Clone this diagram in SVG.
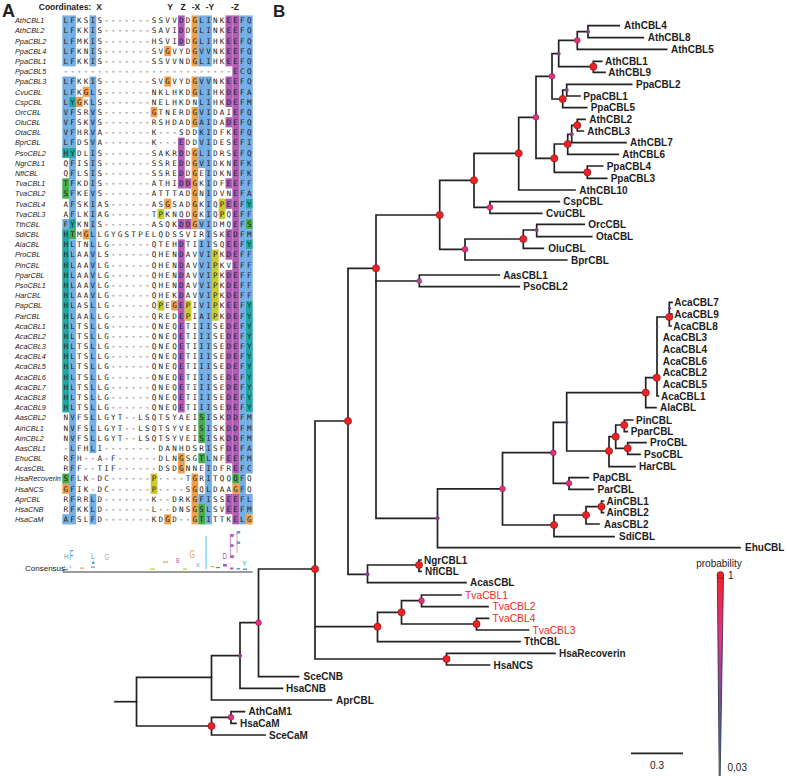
<svg xmlns="http://www.w3.org/2000/svg" width="787" height="776" viewBox="0 0 787 776">
<defs>
<style>
.pl{font-family:"Liberation Sans",Arial,sans-serif;font-weight:bold;fill:#222}
.hd{font-family:"Liberation Sans",Arial,sans-serif;font-weight:bold;font-size:8.5px;fill:#222;text-anchor:middle}
.nm{font-family:"Liberation Sans",Arial,sans-serif;font-style:italic;font-size:7.3px;fill:#222}
.sq{font-family:"DejaVu Sans Mono",monospace;font-size:7.6px;letter-spacing:2.225px;fill:#222}
.b{fill:#74aee4}.p{fill:#b25cb2}.o{fill:#eea04c}.g{fill:#45ad4b}.c{fill:#23a5a5}.y{fill:#c9c932}
.lbl{font-family:"Liberation Sans",Arial,sans-serif;font-size:10px;font-weight:bold;fill:#1e1e1e}
.tv{font-family:"Liberation Sans",Arial,sans-serif;font-size:10.3px;fill:#ee2a24}
.br{fill:none;stroke:#222;stroke-width:1.7;stroke-linecap:square;stroke-linejoin:miter}
.nr{fill:#ee2224;stroke:#7a1010;stroke-width:0.6}
.np{fill:#e2307c;stroke:#7a1840;stroke-width:0.5}
.nm2{fill:#b04898;stroke:#5a2050;stroke-width:0.4}
.nv{fill:#8a3c8c}
.nb{fill:#3c4a9c}
.sm{font-family:"Liberation Sans",Arial,sans-serif;font-size:10px;fill:#222}
.lg{font-family:"Liberation Sans",Arial,sans-serif;font-size:7px}
</style>
<linearGradient id="pg" x1="0" y1="0" x2="0" y2="1">
<stop offset="0" stop-color="#f2222a"/>
<stop offset="0.3" stop-color="#e8308a"/>
<stop offset="0.6" stop-color="#7a4aa8"/>
<stop offset="0.85" stop-color="#4a70c8"/>
<stop offset="1" stop-color="#40e0f0"/>
</linearGradient>
</defs>
<rect width="787" height="776" fill="#fff"/>

<!-- Panel A -->
<g id="panelA">
<text class="pl" x="2" y="16.5" font-size="18">A</text>
<text class="hd" x="65" y="9.5">Coordinates:</text>
<text class="hd" x="99" y="9.5">X</text>
<text class="hd" x="170" y="9.5">Y</text>
<text class="hd" x="183" y="9.5">Z</text>
<text class="hd" x="196" y="9.5">-X</text>
<text class="hd" x="210" y="9.5">-Y</text>
<text class="hd" x="235" y="9.5">-Z</text>

<g id="cells">
<rect class="b" x="62.3" y="15.41" width="6.8" height="50.9"/>
<rect class="b" x="62.3" y="76.49" width="6.8" height="71.26"/>
<rect class="c" x="62.3" y="147.75" width="6.8" height="10.18"/>
<rect class="g" x="62.3" y="178.29" width="6.8" height="20.36"/>
<rect class="b" x="62.3" y="219.01" width="6.8" height="10.18"/>
<rect class="c" x="62.3" y="229.19" width="6.8" height="183.24"/>
<rect class="g" x="62.3" y="473.51" width="6.8" height="10.18"/>
<rect class="o" x="62.3" y="483.69" width="6.8" height="10.18"/>
<rect class="b" x="62.3" y="514.23" width="6.8" height="10.18"/>

<rect class="b" x="69.1" y="15.41" width="6.8" height="50.9"/>
<rect class="b" x="69.1" y="76.49" width="6.8" height="20.36"/>
<rect class="c" x="69.1" y="96.85" width="6.8" height="10.18"/>
<rect class="b" x="69.1" y="107.03" width="6.8" height="40.72"/>
<rect class="c" x="69.1" y="147.75" width="6.8" height="10.18"/>
<rect class="b" x="69.1" y="157.93" width="6.8" height="61.08"/>
<rect class="c" x="69.1" y="219.01" width="6.8" height="10.18"/>
<rect class="g" x="69.1" y="229.19" width="6.8" height="10.18"/>
<rect class="b" x="69.1" y="239.37" width="6.8" height="285.04"/>

<rect class="o" x="75.9" y="96.85" width="6.8" height="10.18"/>
<rect class="o" x="82.7" y="86.67" width="6.8" height="10.18"/>
<rect class="o" x="82.7" y="229.19" width="6.8" height="10.18"/>

<rect class="b" x="89.5" y="15.41" width="6.8" height="50.9"/>
<rect class="b" x="89.5" y="76.49" width="6.8" height="376.66"/>
<rect class="b" x="89.5" y="493.87" width="6.8" height="30.54"/>

<rect class="o" x="150.7" y="107.03" width="6.8" height="10.18"/>
<rect class="y" x="150.7" y="473.51" width="6.8" height="20.36"/>
<rect class="y" x="157.5" y="208.83" width="6.8" height="10.18"/>
<rect class="y" x="157.5" y="300.45" width="6.8" height="10.18"/>
<rect class="o" x="164.3" y="45.95" width="6.8" height="10.18"/>
<rect class="o" x="164.3" y="76.49" width="6.8" height="10.18"/>
<rect class="o" x="164.3" y="198.65" width="6.8" height="10.18"/>
<rect class="o" x="164.3" y="514.23" width="6.8" height="10.18"/>
<rect class="o" x="171.1" y="300.45" width="6.8" height="10.18"/>

<rect class="p" x="177.9" y="15.41" width="6.8" height="30.54"/>
<rect class="p" x="177.9" y="137.57" width="6.8" height="50.9"/>
<rect class="p" x="177.9" y="219.01" width="6.8" height="10.18"/>
<rect class="p" x="177.9" y="239.37" width="6.8" height="173.06"/>
<rect class="o" x="177.9" y="453.15" width="6.8" height="20.36"/>

<rect class="p" x="184.7" y="178.29" width="6.8" height="10.18"/>
<rect class="p" x="184.7" y="219.01" width="6.8" height="10.18"/>
<rect class="y" x="184.7" y="300.45" width="6.8" height="20.36"/>

<rect class="o" x="191.5" y="15.41" width="6.8" height="50.9"/>
<rect class="o" x="191.5" y="76.49" width="6.8" height="20.36"/>
<rect class="o" x="191.5" y="107.03" width="6.8" height="20.36"/>
<rect class="o" x="191.5" y="147.75" width="6.8" height="81.44"/>
<rect class="o" x="191.5" y="473.51" width="6.8" height="50.9"/>

<rect class="b" x="198.3" y="15.41" width="6.8" height="50.9"/>
<rect class="b" x="198.3" y="76.49" width="6.8" height="91.62"/>
<rect class="b" x="198.3" y="219.01" width="6.8" height="10.18"/>
<rect class="b" x="198.3" y="239.37" width="6.8" height="173.06"/>
<rect class="g" x="198.3" y="412.43" width="6.8" height="30.54"/>
<rect class="g" x="198.3" y="453.15" width="6.8" height="10.18"/>
<rect class="b" x="198.3" y="493.87" width="6.8" height="10.18"/>
<rect class="g" x="198.3" y="504.05" width="6.8" height="20.36"/>

<rect class="b" x="205.1" y="15.41" width="6.8" height="50.9"/>
<rect class="b" x="205.1" y="76.49" width="6.8" height="447.92"/>

<rect class="y" x="211.9" y="249.55" width="6.8" height="71.26"/>
<rect class="y" x="218.7" y="198.65" width="6.8" height="20.36"/>

<rect class="p" x="225.5" y="15.41" width="6.8" height="50.9"/>
<rect class="p" x="225.5" y="76.49" width="6.8" height="30.54"/>
<rect class="p" x="225.5" y="117.21" width="6.8" height="10.18"/>
<rect class="p" x="225.5" y="178.29" width="6.8" height="10.18"/>
<rect class="p" x="225.5" y="198.65" width="6.8" height="10.18"/>
<rect class="p" x="225.5" y="229.19" width="6.8" height="30.54"/>
<rect class="p" x="225.5" y="269.91" width="6.8" height="193.42"/>
<rect class="p" x="225.5" y="493.87" width="6.8" height="20.36"/>

<rect class="p" x="232.3" y="15.41" width="6.8" height="458.1"/>
<rect class="g" x="232.3" y="473.51" width="6.8" height="10.18"/>
<rect class="o" x="232.3" y="483.69" width="6.8" height="10.18"/>
<rect class="p" x="232.3" y="493.87" width="6.8" height="30.54"/>

<rect class="b" x="239.1" y="15.41" width="6.8" height="509"/>

<rect class="b" x="245.9" y="15.41" width="6.8" height="183.24"/>
<rect class="c" x="245.9" y="198.65" width="6.8" height="10.18"/>
<rect class="b" x="245.9" y="208.83" width="6.8" height="10.18"/>
<rect class="g" x="245.9" y="219.01" width="6.8" height="10.18"/>
<rect class="b" x="245.9" y="229.19" width="6.8" height="10.18"/>
<rect class="c" x="245.9" y="239.37" width="6.8" height="10.18"/>
<rect class="b" x="245.9" y="249.55" width="6.8" height="50.9"/>
<rect class="c" x="245.9" y="300.45" width="6.8" height="111.98"/>
<rect class="b" x="245.9" y="412.43" width="6.8" height="61.08"/>
<rect class="b" x="245.9" y="493.87" width="6.8" height="20.36"/>
<rect class="o" x="245.9" y="514.23" width="6.8" height="10.18"/>
</g>

<g id="names">
<text class="nm" x="15" y="23.30">AthCBL1</text>
<text class="nm" x="15" y="33.48">AthCBL2</text>
<text class="nm" x="15" y="43.66">PpaCBL2</text>
<text class="nm" x="15" y="53.84">PpaCBL4</text>
<text class="nm" x="15" y="64.02">PpaCBL1</text>
<text class="nm" x="15" y="74.20">PpaCBL5</text>
<text class="nm" x="15" y="84.38">PpaCBL3</text>
<text class="nm" x="15" y="94.56">CvuCBL</text>
<text class="nm" x="15" y="104.74">CspCBL</text>
<text class="nm" x="15" y="114.92">OrcCBL</text>
<text class="nm" x="15" y="125.10">OluCBL</text>
<text class="nm" x="15" y="135.28">OtaCBL</text>
<text class="nm" x="15" y="145.46">BprCBL</text>
<text class="nm" x="15" y="155.64">PsoCBL2</text>
<text class="nm" x="15" y="165.82">NgrCBL1</text>
<text class="nm" x="15" y="176.00">NflCBL</text>
<text class="nm" x="15" y="186.18">TvaCBL1</text>
<text class="nm" x="15" y="196.36">TvaCBL2</text>
<text class="nm" x="15" y="206.54">TvaCBL4</text>
<text class="nm" x="15" y="216.72">TvaCBL3</text>
<text class="nm" x="15" y="226.90">TthCBL</text>
<text class="nm" x="15" y="237.08">SdiCBL</text>
<text class="nm" x="15" y="247.26">AlaCBL</text>
<text class="nm" x="15" y="257.44">ProCBL</text>
<text class="nm" x="15" y="267.62">PinCBL</text>
<text class="nm" x="15" y="277.80">PparCBL</text>
<text class="nm" x="15" y="287.98">PsoCBL1</text>
<text class="nm" x="15" y="298.16">HarCBL</text>
<text class="nm" x="15" y="308.34">PapCBL</text>
<text class="nm" x="15" y="318.52">ParCBL</text>
<text class="nm" x="15" y="328.70">AcaCBL1</text>
<text class="nm" x="15" y="338.88">AcaCBL2</text>
<text class="nm" x="15" y="349.06">AcaCBL3</text>
<text class="nm" x="15" y="359.24">AcaCBL4</text>
<text class="nm" x="15" y="369.42">AcaCBL5</text>
<text class="nm" x="15" y="379.60">AcaCBL6</text>
<text class="nm" x="15" y="389.78">AcaCBL7</text>
<text class="nm" x="15" y="399.96">AcaCBL8</text>
<text class="nm" x="15" y="410.14">AcaCBL9</text>
<text class="nm" x="15" y="420.32">AasCBL2</text>
<text class="nm" x="15" y="430.50">AinCBL1</text>
<text class="nm" x="15" y="440.68">AinCBL2</text>
<text class="nm" x="15" y="450.86">AasCBL1</text>
<text class="nm" x="15" y="461.04">EhuCBL</text>
<text class="nm" x="15" y="471.22">AcasCBL</text>
<text class="nm" x="15" y="481.40">HsaRecoverin</text>
<text class="nm" x="15" y="491.58">HsaNCS</text>
<text class="nm" x="15" y="501.76">AprCBL</text>
<text class="nm" x="15" y="511.94">HsaCNB</text>
<text class="nm" x="15" y="522.12">HsaCaM</text>
</g>

<g id="seqs">
<text class="sq" x="63.41" y="23.30">LFKSIS-------SSVVDDGLINKEEFQ</text>
<text class="sq" x="63.41" y="33.48">LFKKIS-------SAVIDDGLINKEEFQ</text>
<text class="sq" x="63.41" y="43.66">LFMKIS-------HSVIDDGLIHKEEFQ</text>
<text class="sq" x="63.41" y="53.84">LFKNIS-------SVGVYDGVVNKEEFQ</text>
<text class="sq" x="63.41" y="64.02">LFKKIS-------SSVVNDGLIHKEEFQ</text>
<text class="sq" x="63.41" y="74.20">-------------------------ECQ</text>
<text class="sq" x="63.41" y="84.38">LFKKIS-------SVGVYDGVVNKEEFQ</text>
<text class="sq" x="63.41" y="94.56">LFKGLS-------NKLHKDGLIHKDEFA</text>
<text class="sq" x="63.41" y="104.74">LYGKLS-------NELHKDNLIHKDEFM</text>
<text class="sq" x="63.41" y="114.92">VFSRVS-------GTNERDGVIDAIEFQ</text>
<text class="sq" x="63.41" y="125.10">VFSKVS-------RSHDADGAIDADEFQ</text>
<text class="sq" x="63.41" y="135.28">VFHRVA-------K---SDDKIDFKEFQ</text>
<text class="sq" x="63.41" y="145.46">LFDSVA-------K---EDDVIDESEFI</text>
<text class="sq" x="63.41" y="155.64">HYDLIS-------SAKRDDGLIDRSEFQ</text>
<text class="sq" x="63.41" y="165.82">QFISIS-------SSREDDGVIDKNEFK</text>
<text class="sq" x="63.41" y="176.00">QFLSIS-------SSREDDGEIDKNEFK</text>
<text class="sq" x="63.41" y="186.18">TFKDIS-------ATHIDDGKIDFEEFF</text>
<text class="sq" x="63.41" y="196.36">SFKEVS-------ATTTADGNIDVNEFA</text>
<text class="sq" x="63.41" y="206.54">AFSKIAS------ASGSADGKIQPEEFY</text>
<text class="sq" x="63.41" y="216.72">AFLKIAG------TPKNQDGKIQPQEFF</text>
<text class="sq" x="63.41" y="226.90">FYKNIS-------ASQKDDGVIDMQEFS</text>
<text class="sq" x="63.41" y="237.08">HTMGLLGYGSTPELQDSSVIRISKEDFM</text>
<text class="sq" x="63.41" y="247.26">HLTNLLG------QTEHDTIIISQEEFY</text>
<text class="sq" x="63.41" y="257.44">HLAAVLS------QHENDAVVIPKDEFF</text>
<text class="sq" x="63.41" y="267.62">HLAAVLG------QHENDAVVIPKVEFF</text>
<text class="sq" x="63.41" y="277.80">HLAAVLG------QHENDAVVIPKDEFF</text>
<text class="sq" x="63.41" y="287.98">HLAAVLG------QHENDAVVIPKDEFF</text>
<text class="sq" x="63.41" y="298.16">HLAAVLG------QHEKDAVVIPKDEFF</text>
<text class="sq" x="63.41" y="308.34">HLASLLG------QPEGEPIVIPKEEFY</text>
<text class="sq" x="63.41" y="318.52">HLAALLG------QREDEPIAIPKDEFY</text>
<text class="sq" x="63.41" y="328.70">HLTSLLG------QNEQETIIISEDEFY</text>
<text class="sq" x="63.41" y="338.88">HLTSLLG------QNEQETIIISEDEFY</text>
<text class="sq" x="63.41" y="349.06">HLTSLLG------QNEQETIIISEDEFY</text>
<text class="sq" x="63.41" y="359.24">HLTSLLG------QNEQETIIISEDEFY</text>
<text class="sq" x="63.41" y="369.42">HLTSLLG------QNEQETIIISEDEFY</text>
<text class="sq" x="63.41" y="379.60">HLTSLLG------QNEQETIIISEDEFY</text>
<text class="sq" x="63.41" y="389.78">HLTSLLG------QNEQETIIISEDEFY</text>
<text class="sq" x="63.41" y="399.96">HLTSLLG------QNEQETIIISEDEFY</text>
<text class="sq" x="63.41" y="410.14">HLTSLLG------QNEQETIIISEDEFY</text>
<text class="sq" x="63.41" y="420.32">NVFSLLGYT--LSQTSYAEISISKDDFM</text>
<text class="sq" x="63.41" y="430.50">NVFSLLGYT--LSQTSYVEISISKDDFM</text>
<text class="sq" x="63.41" y="440.68">NVFSLLGYT--LSQTSYVEISISKDDFM</text>
<text class="sq" x="63.41" y="450.86">-LFHLI--------DANHDSRISFDEFA</text>
<text class="sq" x="63.41" y="461.04">RFH--A-F------DLNGSGTLNFEEFM</text>
<text class="sq" x="63.41" y="471.22">RFF--TIF------DSDGNNEIDFREFC</text>
<text class="sq" x="63.41" y="481.40">SFLK-DC------P----TGRITQQQFQ</text>
<text class="sq" x="63.41" y="491.58">GFIK-DC------P----SGQLDAAGFQ</text>
<text class="sq" x="63.41" y="501.76">RFRRLD-------K--DRKGFISSEEFL</text>
<text class="sq" x="63.41" y="511.94">RFKKLD-------L--DNSGSLSVEEFM</text>
<text class="sq" x="63.41" y="522.12">AFSLFD-------KDGD--GTITTKELG</text>
</g>

<g id="logo">
<text class="lg" transform="translate(64,559) scale(0.9,1)" fill="#23a5a5">H</text>
<text class="lg" transform="translate(69.5,559.5) scale(0.9,2)" fill="#5c9ad8">F</text>
<text class="lg" transform="translate(64,568) scale(0.7,0.6)" fill="#23a5a5">L</text>
<text class="lg" transform="translate(69.5,568) scale(0.8,0.6)" fill="#5c9ad8">L</text>
<rect x="63" y="569" width="5" height="1.2" fill="#45ad4b"/>
<rect x="80" y="567.5" width="4" height="1.2" fill="#eea04c"/>
<text class="lg" transform="translate(91,559) scale(0.9,1.2)" fill="#5c9ad8">L</text>
<rect x="92" y="561.5" width="2.5" height="2.5" fill="#5c9ad8"/>
<rect x="91" y="566.5" width="4" height="1.2" fill="#5c9ad8"/>
<text class="lg" transform="translate(104.5,560) scale(0.9,1.2)" fill="#b0b0b0">G</text>
<rect x="150" y="568.5" width="5" height="1.2" fill="#c9c932"/>
<rect x="163" y="561.5" width="5" height="1.2" fill="#eea04c"/>
<text class="lg" transform="translate(176,563) scale(0.8,0.9)" fill="#b25cb2">B</text>
<rect x="183" y="568.5" width="4" height="1.2" fill="#c9c932"/>
<text class="lg" transform="translate(189.5,557.5) scale(1,1.6)" fill="#eea04c">G</text>
<text class="lg" transform="translate(196,567) scale(0.8,0.8)" fill="#5c9ad8">X</text>
<text class="lg" transform="translate(204.8,569) scale(1.2,7)" fill="#5c9ad8">I</text>
<rect x="210.5" y="566" width="4" height="1.2" fill="#c9c932"/>
<rect x="216" y="567" width="4" height="1.2" fill="#45ad4b"/>
<text class="lg" transform="translate(222.5,559) scale(0.9,1.2)" fill="#b25cb2">D</text>
<rect x="223" y="564" width="4" height="2.5" fill="#b25cb2"/>
<text class="lg" transform="translate(229.5,558) scale(1,5)" fill="#b25cb2">E</text>
<rect x="230" y="567.5" width="3.5" height="2" fill="#b25cb2"/>
<text class="lg" transform="translate(236,553) scale(1,4.4)" fill="#5c9ad8">F</text>
<rect x="236.5" y="568" width="3.5" height="1.5" fill="#5c9ad8"/>
<text class="lg" transform="translate(242.5,566) scale(0.9,0.9)" fill="#23a5a5">Y</text>
<rect x="243" y="568.5" width="4" height="1.5" fill="#5c9ad8"/>
<rect x="62.5" y="571" width="190" height="2" fill="#9a9a9a"/>
<text x="25" y="571" font-family="Liberation Sans, Arial, sans-serif" font-size="8" fill="#222">Consensus</text>
</g>
</g>

<!-- Panel B -->
<text class="pl" x="273" y="17" font-size="17">B</text>

<g id="connectors">
<path class="br" d="M619.3,25.7 H588 V37.7 H643.3"/>
<path class="br" d="M588,31.7 H577.3 V49.3 H666.7"/>
<path class="br" d="M577.3,40.3 H558.7 V66.7 H593.3"/>
<path class="br" d="M601.7,61.3 H593.3 V72.3 H605"/>
<path class="br" d="M558.7,53.7 H552 V99 H562.7"/>
<path class="br" d="M631.7,84.3 H566.7 V96 H580"/>
<path class="br" d="M566.7,90 H562.7 V107.7 H586.7"/>
<path class="br" d="M552,76.3 H536 V158.3 H554.3"/>
<path class="br" d="M585,119.3 H577.3 V131 H583.3"/>
<path class="br" d="M577.3,125.3 H571.7 V142.7 H626"/>
<path class="br" d="M571.7,134.3 H567.7 V154.3 H618.3"/>
<path class="br" d="M567.7,144 H554.3 V172.3 H587.3"/>
<path class="br" d="M602.7,166 H587.3 V178.3 H606.7"/>
<path class="br" d="M536,117.3 H518.7 V190 H575"/>
<path class="br" d="M518.7,153.3 H474 V207.3 H490"/>
<path class="br" d="M559.3,201.7 H490 V213.3 H541.7"/>
<path class="br" d="M474,180.3 H439.7 V249.3 H465"/>
<path class="br" d="M584.3,224.3 H536.7 V236.7 H591.7"/>
<path class="br" d="M536.7,230 H523.3 V248.3 H543.3"/>
<path class="br" d="M523.3,239 H465 V260 H566.7"/>
<path class="br" d="M439.7,215 H376 V518.3 H437.5"/>
<path class="br" d="M499.3,275 H419.3 V286.7 H519.3 M376,281 H419.3"/>
<path class="br" d="M376,268.3 H348 V574.3 H367.5"/>
<path class="br" d="M502.5,488.8 H437.5 V547.7 H740"/>
<path class="br" d="M553.3,452.7 H502.5 V525 H554"/>
<path class="br" d="M566.7,422.3 H553.3 V483.3 H569"/>
<path class="br" d="M588.3,477.7 H569 V489.3 H593"/>
<path class="br" d="M645.7,392.7 H566.7 V451 H609"/>
<path class="br" d="M656.7,377.7 H645.7 V407.7 H656"/>
<path class="br" d="M669.3,317 H657 V396 H658.5"/>
<path class="br" d="M672,302.3 H669.3 V326 H671 M669.3,314 H672"/>
<path class="br" d="M615.7,436.7 H609 V466.7 H635"/>
<path class="br" d="M624.3,425 H615.7 V448.3 H627.7"/>
<path class="br" d="M632.7,420 H624.3 V431.7 H627.3"/>
<path class="br" d="M646,442.7 H627.7 V454.3 H640"/>
<path class="br" d="M586,515 H554 V536.7 H614"/>
<path class="br" d="M601.5,506.7 H586 V524 H599"/>
<path class="br" d="M603.5,501 H601.5 V512.7 H603.5"/>
<path class="br" d="M348,421 H315 V659 H446.5 M315,626.7 H377.5"/>
<path class="br" d="M421,560 H419 V571.3 H421"/>
<path class="br" d="M419,565 H367.5 V582.7 H466"/>
<path class="br" d="M401.5,612.3 H377.5 V641.7 H520"/>
<path class="br" d="M421.5,600.7 H401.5 V624 H476.5"/>
<path class="br" d="M461,595 H421.5 V606.7 H488"/>
<path class="br" d="M488.5,618.3 H476.5 V630 H528.5"/>
<path class="br" d="M555,653.3 H446.5 V665 H489.5"/>
<path class="br" d="M315,569 H258.5 V676.7 H298.5"/>
<path class="br" d="M258.5,622.7 H240 V688.3 H282.5"/>
<path class="br" d="M240,655.7 H211.5 V700 H331.5"/>
<path class="br" d="M211.5,677.3 H136.5 V726 H211.5"/>
<path class="br" d="M115,701.7 H136.5"/>
<path class="br" d="M231,717.3 H211.5 V735 H265"/>
<path class="br" d="M244.5,711.7 H231 V723.3 H236"/>
</g>

<g id="inner-nodes">
<g id="n1"><circle class="nv" cx="588" cy="31.7" r="2"/></g>
<g id="n2"><circle class="np" cx="577.3" cy="40.3" r="2.9"/></g>
<g id="n3"><circle class="nv" cx="558.7" cy="53.7" r="2"/></g>
<g id="n4"><circle class="nr" cx="593.3" cy="66.7" r="3.6"/></g>
<g id="n5"><circle class="np" cx="552" cy="76.3" r="2.9"/></g>
<g id="n6"><circle class="nv" cx="566.7" cy="90" r="2"/></g>
<g id="n7"><circle class="nr" cx="562.7" cy="99" r="3.6"/></g>
<g id="n8"><circle class="np" cx="536" cy="117.3" r="2.9"/></g>
<g id="n9"><circle class="nr" cx="577.3" cy="125.3" r="3.6"/></g>
<g id="n10"><circle class="nv" cx="571.7" cy="134.3" r="2"/></g>
<g id="n11"><circle class="nr" cx="567.7" cy="144" r="3.6"/></g>
<g id="n12"><circle class="nr" cx="554.3" cy="158.3" r="3.6"/></g>
<g id="n13"><circle class="nr" cx="587.3" cy="172.3" r="3.6"/></g>
<g id="n14"><circle class="nr" cx="518.7" cy="153.3" r="3.6"/></g>
<g id="n15"><circle class="nr" cx="474" cy="180.3" r="3.6"/></g>
<g id="n16"><circle class="np" cx="490" cy="207.3" r="2.9"/></g>
<g id="n17"><circle class="nr" cx="439.7" cy="215" r="3.6"/></g>
<g id="n18"><circle class="nv" cx="536.7" cy="230" r="2"/></g>
<g id="n19"><circle class="nr" cx="523.3" cy="239" r="3.6"/></g>
<g id="n20"><circle class="np" cx="465" cy="249.3" r="2.9"/></g>
<g id="n21"><circle class="nr" cx="376" cy="268.3" r="3.6"/></g>
<g id="n22"><circle class="nm2" cx="419.3" cy="281" r="2.5"/></g>
<g id="n23"><circle class="nb" cx="669.7" cy="308.3" r="1.4"/></g>
<g id="n24"><circle class="nr" cx="669.3" cy="317" r="3.6"/></g>
<g id="n24b"><circle class="nb" cx="657.3" cy="327.3" r="1.1"/><circle class="nb" cx="657.3" cy="355" r="1.1"/></g>
<g id="n25"><circle class="nr" cx="656.7" cy="377.7" r="3.6"/></g>
<g id="n26"><circle class="nr" cx="645.7" cy="392.7" r="3.6"/></g>
<g id="n27"><circle class="nb" cx="566.7" cy="422.3" r="1.5"/></g>
<g id="n28"><circle class="nr" cx="624.3" cy="425" r="3.6"/></g>
<g id="n29"><circle class="nr" cx="615.7" cy="436.7" r="3.6"/></g>
<g id="n30"><circle class="nr" cx="627.7" cy="448.3" r="3.6"/></g>
<g id="n31"><circle class="nr" cx="609" cy="451" r="3.6"/></g>
<g id="n32"><circle class="np" cx="553.3" cy="452.7" r="2.9"/></g>
<g id="n33"><circle class="np" cx="569" cy="483.3" r="2.9"/></g>
<g id="n34"><circle class="np" cx="502.5" cy="488.8" r="2.9"/></g>
<g id="n35"><circle class="nr" cx="601.5" cy="506.7" r="3.6"/></g>
<g id="n36"><circle class="nr" cx="586" cy="515" r="3.6"/></g>
<g id="n37"><circle class="nr" cx="554" cy="525" r="3.6"/></g>
<g id="n38"><circle class="nv" cx="437.5" cy="518.3" r="2"/></g>
<g id="n39"><circle class="nr" cx="348" cy="421" r="3.6"/></g>
<g id="n40"><circle class="nr" cx="419" cy="565" r="3.6"/></g>
<g id="n41"><circle class="nv" cx="367.5" cy="574.3" r="2"/></g>
<g id="n42"><circle class="nr" cx="315" cy="569" r="3.6"/></g>
<g id="n43"><circle class="np" cx="421.5" cy="600.7" r="2.9"/></g>
<g id="n44"><circle class="nr" cx="401.5" cy="612.3" r="3.6"/></g>
<g id="n45"><circle class="nr" cx="476.5" cy="624" r="3.6"/></g>
<g id="n46"><circle class="nr" cx="377.5" cy="626.7" r="3.6"/></g>
<g id="n47"><circle class="nr" cx="446.5" cy="659" r="3.6"/></g>
<g id="n48"><circle class="np" cx="258.5" cy="622.7" r="2.9"/></g>
<g id="n49"><circle class="nv" cx="240" cy="655.7" r="2"/></g>
<g id="n50"><circle class="np" cx="231" cy="717.3" r="2.9"/></g>
<g id="n51"><circle class="nr" cx="211.5" cy="726" r="3.6"/></g>
</g>

<g id="leaves">
<g id="AthCBL4"><text class="lbl" x="624" y="29.3">AthCBL4</text></g>
<g id="AthCBL8"><text class="lbl" x="647.7" y="41.3">AthCBL8</text></g>
<g id="AthCBL5"><text class="lbl" x="671" y="52.9">AthCBL5</text></g>
<g id="AthCBL1"><text class="lbl" x="605" y="64.9">AthCBL1</text></g>
<g id="AthCBL9"><text class="lbl" x="608.3" y="75.9">AthCBL9</text></g>
<g id="PpaCBL2"><text class="lbl" x="636" y="87.9">PpaCBL2</text></g>
<g id="PpaCBL1"><text class="lbl" x="583.3" y="99.6">PpaCBL1</text></g>
<g id="PpaCBL5"><text class="lbl" x="590.7" y="111.3">PpaCBL5</text></g>
<g id="AthCBL2"><text class="lbl" x="589.3" y="122.9">AthCBL2</text></g>
<g id="AthCBL3"><text class="lbl" x="587.3" y="134.6">AthCBL3</text></g>
<g id="AthCBL7"><text class="lbl" x="630" y="146.3">AthCBL7</text></g>
<g id="AthCBL6"><text class="lbl" x="622.3" y="157.9">AthCBL6</text></g>
<g id="PpaCBL4"><text class="lbl" x="606.7" y="169.6">PpaCBL4</text></g>
<g id="PpaCBL3"><text class="lbl" x="610.7" y="181.9">PpaCBL3</text></g>
<g id="AthCBL10"><text class="lbl" x="579.3" y="193.6">AthCBL10</text></g>
<g id="CspCBL"><text class="lbl" x="563.3" y="205.3">CspCBL</text></g>
<g id="CvuCBL"><text class="lbl" x="546" y="216.9">CvuCBL</text></g>
<g id="OrcCBL"><text class="lbl" x="588.3" y="227.9">OrcCBL</text></g>
<g id="OtaCBL"><text class="lbl" x="596" y="240.3">OtaCBL</text></g>
<g id="OluCBL"><text class="lbl" x="548.3" y="251.9">OluCBL</text></g>
<g id="BprCBL"><text class="lbl" x="571" y="263.6">BprCBL</text></g>
<g id="AasCBL1"><text class="lbl" x="503.3" y="278.6">AasCBL1</text></g>
<g id="PsoCBL2"><text class="lbl" x="523.3" y="290.3">PsoCBL2</text></g>
<g id="AcaCBL7"><text class="lbl" x="674.3" y="305.9">AcaCBL7</text></g>
<g id="AcaCBL9"><text class="lbl" x="674.3" y="317.6">AcaCBL9</text></g>
<g id="AcaCBL8"><text class="lbl" x="673.3" y="329.6">AcaCBL8</text></g>
<g id="AcaCBL3"><text class="lbl" x="662.7" y="341.3">AcaCBL3</text></g>
<g id="AcaCBL4"><text class="lbl" x="662.7" y="352.9">AcaCBL4</text></g>
<g id="AcaCBL6"><text class="lbl" x="662.7" y="364.6">AcaCBL6</text></g>
<g id="AcaCBL2"><text class="lbl" x="662.7" y="376.3">AcaCBL2</text></g>
<g id="AcaCBL5"><text class="lbl" x="662.7" y="387.9">AcaCBL5</text></g>
<g id="AcaCBL1"><text class="lbl" x="661" y="399.6">AcaCBL1</text></g>
<g id="AlaCBL"><text class="lbl" x="660" y="411.3">AlaCBL</text></g>
<g id="PinCBL"><text class="lbl" x="636" y="423.6">PinCBL</text></g>
<g id="PparCBL"><text class="lbl" x="630.7" y="435.3">PparCBL</text></g>
<g id="ProCBL"><text class="lbl" x="650" y="446.3">ProCBL</text></g>
<g id="PsoCBL"><text class="lbl" x="644" y="457.9">PsoCBL</text></g>
<g id="HarCBL"><text class="lbl" x="639" y="470.3">HarCBL</text></g>
<g id="PapCBL"><text class="lbl" x="592.7" y="481.3">PapCBL</text></g>
<g id="ParCBL"><text class="lbl" x="597.5" y="492.9">ParCBL</text></g>
<g id="AinCBL1"><text class="lbl" x="606.5" y="504.6">AinCBL1</text></g>
<g id="AinCBL2"><text class="lbl" x="606.5" y="516.3">AinCBL2</text></g>
<g id="AasCBL2"><text class="lbl" x="604" y="527.6">AasCBL2</text></g>
<g id="SdiCBL"><text class="lbl" x="619" y="540.3">SdiCBL</text></g>
<g id="EhuCBL"><text class="lbl" x="745" y="551.3">EhuCBL</text></g>
<g id="NgrCBL1"><text class="lbl" x="424" y="563.6">NgrCBL1</text></g>
<g id="NflCBL"><text class="lbl" x="425" y="574.9">NflCBL</text></g>
<g id="AcasCBL"><text class="lbl" x="470" y="586.3">AcasCBL</text></g>
<g id="TvaCBL1"><text class="tv" x="465" y="598.6">TvaCBL1</text></g>
<g id="TvaCBL2"><text class="tv" x="492.5" y="610.3">TvaCBL2</text></g>
<g id="TvaCBL4"><text class="tv" x="492.5" y="621.9">TvaCBL4</text></g>
<g id="TvaCBL3"><text class="tv" x="532.5" y="633.6">TvaCBL3</text></g>
<g id="TthCBL"><text class="lbl" x="524" y="645.3">TthCBL</text></g>
<g id="HsaRecoverin"><text class="lbl" x="559" y="656.9">HsaRecoverin</text></g>
<g id="HsaNCS"><text class="lbl" x="493.5" y="668.6">HsaNCS</text></g>
<g id="SceCNB"><text class="lbl" x="303.5" y="680.3">SceCNB</text></g>
<g id="HsaCNB"><text class="lbl" x="286" y="691.9">HsaCNB</text></g>
<g id="AprCBL"><text class="lbl" x="336" y="703.6">AprCBL</text></g>
<g id="AthCaM1"><text class="lbl" x="248.5" y="715.3">AthCaM1</text></g>
<g id="HsaCaM"><text class="lbl" x="240" y="726.9">HsaCaM</text></g>
<g id="SceCaM"><text class="lbl" x="269" y="738.6">SceCaM</text></g>
</g>

<g id="scalebar">
<line x1="631" y1="753.3" x2="683" y2="753.3" stroke="#222" stroke-width="1.7"/>
<text class="sm" x="657" y="769" text-anchor="middle">0.3</text>
</g>

<g id="legend">
<text class="sm" x="719" y="567" text-anchor="middle">probability</text>
<polygon points="717.3,575 723.5,575 720.2,776 719.2,776" fill="url(#pg)" stroke="#2a2a3a" stroke-width="0.8"/>
<circle cx="720.4" cy="575" r="3.4" fill="#ee2224" stroke="#7a1010" stroke-width="0.6"/>
<text class="sm" x="728" y="578.5">1</text>
<text class="sm" x="727.5" y="771">0,03</text>
</g>
</svg>
